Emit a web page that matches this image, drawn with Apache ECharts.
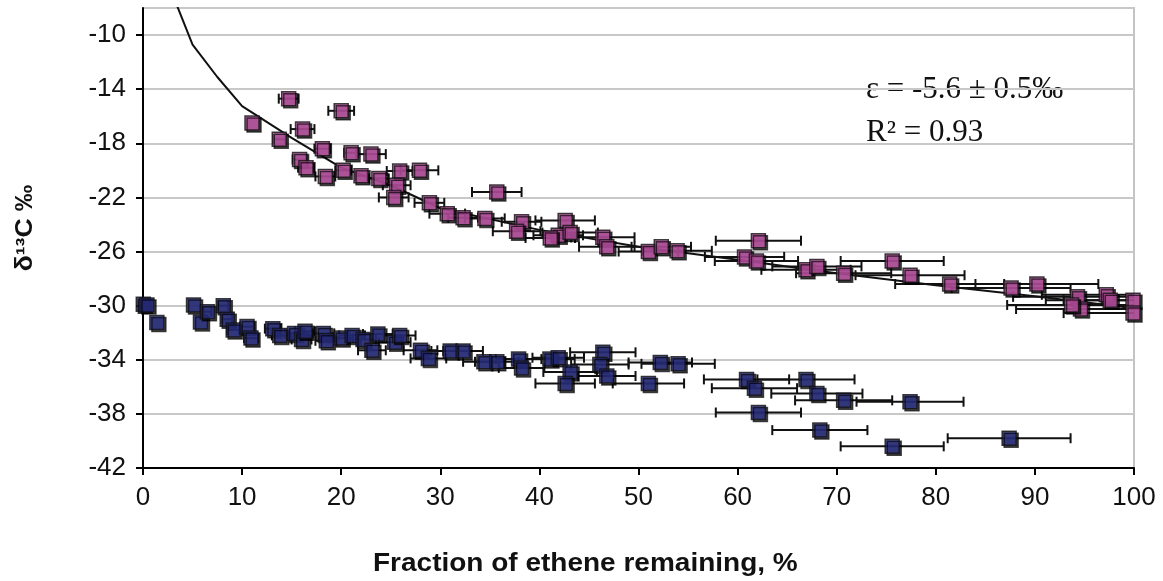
<!DOCTYPE html>
<html>
<head>
<meta charset="utf-8">
<script src="https://cdn.jsdelivr.net/npm/echarts@6/dist/echarts.min.js"></script>
<style>
html,body{margin:0;padding:0;background:#fff;}
#chart{width:1163px;height:581px;}
</style>
</head>
<body>
<div id="chart"></div>
<script>
// ---- Data ----
var pinkX   = [11.0, 14.7, 20.0, 13.75, 16.1, 18.1, 21.0, 23.0, 15.8, 16.45, 18.4, 20.2, 22.0, 23.8, 25.9, 27.9, 25.6, 25.3, 28.9, 35.7, 30.7, 32.3, 34.5, 38.2, 37.7, 42.6, 41.9, 43.1, 41.1, 46.4, 46.8, 51.0, 52.3, 53.9, 62.1, 60.7, 61.9, 66.9, 68.0, 70.7, 75.6, 77.4, 81.4, 87.6, 90.2, 94.3, 94.6, 97.2, 97.6, 99.9, 99.9, 93.7];
var pinkY   = [-16.5, -14.7, -15.6, -17.7, -16.95, -18.4, -18.7, -18.8, -19.2, -19.8, -20.45, -20.0, -20.4, -20.6, -20.05, -20.0, -21.1, -22.0, -22.4, -21.6, -23.2, -23.5, -23.55, -23.8, -24.5, -23.7, -24.8, -24.6, -25.0, -24.95, -25.65, -26.0, -25.65, -25.95, -25.2, -26.4, -26.7, -27.35, -27.1, -27.6, -26.7, -27.75, -28.4, -28.7, -28.4, -29.35, -30.25, -29.2, -29.6, -29.6, -30.55, -29.95];
var pinkErr = [0, 1.0, 1.3, 0.6, 1.2, 0.8, 0.7, 1.5, 0.7, 0.8, 1.0, 0.8, 0.6, 1.0, 1.3, 1.9, 1.4, 1.5, 1.5, 2.5, 1.8, 1.5, 2.0, 2.0, 2.4, 3.0, 2.5, 2.8, 2.5, 3.2, 2.8, 3.0, 3.0, 3.5, 4.3, 4.0, 4.2, 4.5, 4.5, 4.8, 5.2, 5.5, 5.5, 6.0, 6.2, 6.5, 6.5, 6.5, 6.5, 7.0, 7.0, 6.5];

var blueX   = [0.03, 0.4, 1.4, 5.1, 5.8, 6.5, 8.1, 8.5, 9.1, 10.5, 10.9, 13.1, 13.8, 15.3, 16.0, 16.35, 18.2, 18.5, 20.0, 21.1, 22.2, 23.1, 23.7, 25.4, 25.9, 28.0, 28.8, 31.0, 32.3, 34.4, 35.7, 37.9, 38.2, 41.06, 41.9, 46.4, 46.1, 43.1, 42.6, 46.8, 51.0, 52.2, 54.0, 60.9, 61.7, 66.9, 68.0, 70.7, 77.4, 62.1, 68.3, 75.6, 87.4];
var blueY   = [-29.9, -29.95, -31.25, -29.95, -31.2, -30.45, -30.0, -31.0, -31.8, -31.55, -32.4, -31.7, -32.2, -32.05, -32.5, -31.9, -32.05, -32.6, -32.4, -32.2, -32.5, -33.3, -32.1, -32.7, -32.2, -33.3, -33.9, -33.35, -33.35, -34.15, -34.15, -33.95, -34.6, -33.95, -33.85, -33.45, -34.35, -34.9, -35.75, -35.2, -35.75, -34.2, -34.3, -35.45, -36.1, -35.45, -36.5, -37.0, -37.1, -37.9, -39.2, -40.4, -39.8];
var blueErr = [0, 0, 0, 0, 0, 0.4, 0.5, 0.5, 0.6, 0.7, 0.7, 0.8, 0.8, 1.0, 1.0, 1.0, 1.1, 1.1, 1.2, 1.3, 1.3, 1.4, 1.5, 1.6, 1.6, 1.7, 1.8, 1.9, 2.0, 2.1, 2.2, 2.3, 2.3, 2.5, 2.6, 3.3, 2.9, 2.7, 3.0, 2.9, 3.6, 3.2, 3.7, 4.3, 4.3, 4.9, 4.6, 4.9, 5.4, 4.3, 4.8, 5.2, 6.2];

var curveX = [3.2, 5, 7.5, 10, 15, 20, 25, 30, 40, 50, 60, 70, 80, 90, 100];
var curveY = [-7.4, -10.7, -13.1, -15.25, -17.6, -19.8, -21.1, -22.8, -24.4, -25.65, -26.6, -27.6, -28.5, -29.3, -30.2];

var xTicks = {min: 0, max: 100, step: 10};
var yTicks = {min: -42, max: -8, step: 4};

var annotLine1 = 'ε = -5.6 ± 0.5‰';
var annotLine2 = 'R² = 0.93';
var xTitle = 'Fraction of ethene remaining, %';

// ---- Build series data ----
function zip3(a, b, c) { var out = []; for (var i = 0; i < a.length; i++) out.push([a[i], b[i], c[i]]); return out; }
function zip2(a, b) { var out = []; for (var i = 0; i < a.length; i++) out.push([a[i], b[i]]); return out; }

var pinkData = zip3(pinkX, pinkY, pinkErr);
var blueData = zip3(blueX, blueY, blueErr);
var curveData = zip2(curveX, curveY);

function renderErr(params, api) {
  var x = api.value(0), y = api.value(1), e = api.value(2);
  if (!e) return null;
  var lo = Math.max(xTicks.min, x - e), hi = Math.min(xTicks.max, x + e);
  var l = api.coord([lo, y]), r = api.coord([hi, y]);
  var h = 5;
  var st = {stroke: '#111', lineWidth: 2};
  var ch = [{type: 'line', shape: {x1: l[0], y1: l[1], x2: r[0], y2: r[1]}, style: st}];
  if (x - e >= xTicks.min) ch.push({type: 'line', shape: {x1: l[0], y1: l[1] - h, x2: l[0], y2: l[1] + h}, style: st});
  if (x + e <= xTicks.max) ch.push({type: 'line', shape: {x1: r[0], y1: r[1] - h, x2: r[0], y2: r[1] + h}, style: st});
  return {type: 'group', children: ch};
}

var markerStyle = function (color) {
  return {
    color: color, borderColor: '#111', borderWidth: 1.5,
    shadowColor: 'rgba(0,0,0,0.85)', shadowOffsetX: 2, shadowOffsetY: 2, shadowBlur: 0
  };
};

var chart = echarts.init(document.getElementById('chart'), null, {renderer: 'canvas'});
var font = 'Liberation Sans, Arial, sans-serif';
var serif = '"Liberation Serif", "Times New Roman", serif';

chart.setOption({
  animation: false,
  backgroundColor: '#fff',
  grid: {left: 143, right: 29, top: 8, bottom: 113, show: true, borderColor: '#c4c4c4', borderWidth: 2, backgroundColor: 'transparent'},
  xAxis: {
    type: 'value', min: xTicks.min, max: xTicks.max, interval: xTicks.step,
    axisLine: {onZero: false, lineStyle: {color: '#000', width: 2}},
    axisTick: {show: true, inside: false, length: 7, lineStyle: {color: '#000', width: 2}},
    axisLabel: {color: '#111', fontSize: 26, fontFamily: font, margin: 17},
    splitLine: {show: false}
  },
  yAxis: {
    type: 'value', min: yTicks.min, max: yTicks.max, interval: yTicks.step,
    axisLine: {onZero: false, lineStyle: {color: '#000', width: 2}},
    axisTick: {show: true, inside: false, length: 7, lineStyle: {color: '#000', width: 2}},
    axisLabel: {color: '#111', fontSize: 26, fontFamily: font, margin: 17, showMaxLabel: false},
    splitLine: {show: true, lineStyle: {color: '#c8c8c8', width: 2}}
  },
  graphic: [
    {type: 'text', x: 866, y: 74, style: {text: annotLine1, font: '31px ' + serif, fill: '#111'}},
    {type: 'text', x: 866, y: 117, style: {text: annotLine2, font: '31px ' + serif, fill: '#111'}},
    {type: 'text', x: 373, y: 552, scaleX: 1.12, style: {text: xTitle, font: 'bold 25px "Liberation Sans", Arial, sans-serif', fill: '#111'}},
    {type: 'text', x: 26, y: 228, rotation: Math.PI / 2, scaleX: 1.15,
      style: {text: 'δ¹³C ‰', font: 'bold 23px "Liberation Sans", Arial, sans-serif', fill: '#111', align: 'center', verticalAlign: 'middle'}}
  ],
  series: [
    {type: 'custom', name: 'pinkErr', renderItem: renderErr, data: pinkData, encode: {x: 0, y: 1}, z: 2, silent: true},
    {type: 'custom', name: 'blueErr', renderItem: renderErr, data: blueData, encode: {x: 0, y: 1}, z: 2, silent: true},
    {type: 'line', name: 'fit', data: curveData, showSymbol: false, symbol: 'none', smooth: false, clip: true,
      lineStyle: {color: '#111', width: 2}, z: 3},
    {type: 'scatter', name: 'pink', data: pinkData, symbol: 'rect', symbolSize: 14, itemStyle: markerStyle('#c455aa'), z: 4},
    {type: 'scatter', name: 'blue', data: blueData, symbol: 'rect', symbolSize: 14, itemStyle: markerStyle('#2b2f86'), z: 4}
  ]
});
</script>
</body>
</html>
